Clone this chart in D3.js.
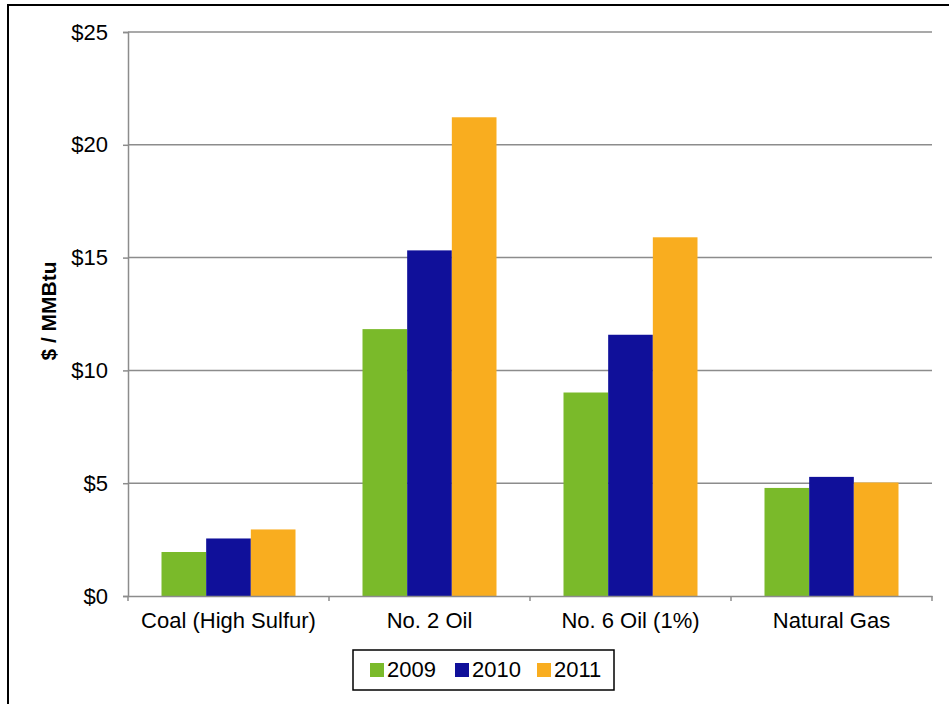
<!DOCTYPE html>
<html>
<head>
<meta charset="utf-8">
<script src="https://cdn.jsdelivr.net/npm/d3@7"></script>
<style>
  html, body { margin: 0; padding: 0; background: #fff; }
  svg { display: block; font-family: "Liberation Sans", Arial, sans-serif; }
</style>
</head>
<body>
<svg id="chart" width="949" height="704"></svg>
<script>
// Fuel prices by year, $ / MMBtu
const categories = ["Coal (High Sulfur)", "No. 2 Oil", "No. 6 Oil (1%)", "Natural Gas"];
const years = ["2009", "2010", "2011"];
const values2009 = [1.95, 11.83, 9.02, 4.79];
const values2010 = [2.55, 15.32, 11.58, 5.28];
const values2011 = [2.95, 21.22, 15.9, 5.03];
const yTicks = [0, 5, 10, 15, 20, 25];
const colors = ["#7aba2a", "#10109a", "#f9ad1f"];

const seriesValues = [values2009, values2010, values2011];
const rows = categories.map((c, i) => ({
  category: c,
  vals: years.map((y, j) => ({ year: y, value: seriesValues[j][i], color: colors[j] }))
}));

const svg = d3.select("#chart");
const plot = { left: 128, right: 932, top: 32, bottom: 596 };
const fontFamily = "'Liberation Sans', Arial, sans-serif";

// outer frame
svg.append("rect")
  .attr("x", 8).attr("y", 5)
  .attr("width", 960).attr("height", 720)
  .attr("fill", "none").attr("stroke", "#000").attr("stroke-width", 2);

const x = d3.scaleBand().domain(categories).range([plot.left, plot.right]).padding(0);
const barW = x.bandwidth() / 4.5;
const xInner = d3.scaleBand().domain(years)
  .range([0.75 * barW, 0.75 * barW + 3 * barW]).padding(0);
const y = d3.scaleLinear().domain([0, 25]).range([plot.bottom, plot.top]);

const gridColor = "#8c8c8c";

// horizontal gridlines
svg.append("g").selectAll("line")
  .data(yTicks.filter(t => t > 0))
  .join("line")
  .attr("x1", plot.left).attr("x2", plot.right)
  .attr("y1", d => y(d)).attr("y2", d => y(d))
  .attr("stroke", gridColor).attr("stroke-width", 1.5);

// bars
const groups = svg.append("g").selectAll("g")
  .data(rows)
  .join("g")
  .attr("transform", d => `translate(${x(d.category)},0)`);

groups.selectAll("rect")
  .data(d => d.vals)
  .join("rect")
  .attr("x", d => xInner(d.year))
  .attr("width", xInner.bandwidth())
  .attr("y", d => y(d.value))
  .attr("height", d => y(0) - y(d.value))
  .attr("fill", d => d.color);

// y axis
const yAxis = svg.append("g")
  .attr("transform", `translate(${plot.left},0)`)
  .call(d3.axisLeft(y).tickValues(yTicks).tickFormat(d => "$" + d).tickSize(5).tickPadding(15));
yAxis.select(".domain").attr("stroke", gridColor).attr("stroke-width", 1.5);
yAxis.selectAll(".tick line").attr("stroke", gridColor).attr("stroke-width", 1.5);
yAxis.selectAll(".tick text")
  .attr("fill", "#000").attr("font-size", 22)
  .attr("font-family", fontFamily);

// x axis
const xAxis = svg.append("g")
  .attr("transform", `translate(0,${plot.bottom})`)
  .call(d3.axisBottom(x).tickSize(0).tickPadding(16));
xAxis.select(".domain").attr("stroke", gridColor).attr("stroke-width", 1.5);
xAxis.selectAll(".tick text")
  .attr("fill", "#000").attr("font-size", 22)
  .attr("font-family", fontFamily);

// category boundary ticks
const boundaries = categories.map(c => x(c)).concat([plot.right]);
svg.append("g").selectAll("line")
  .data(boundaries)
  .join("line")
  .attr("x1", d => d).attr("x2", d => d)
  .attr("y1", plot.bottom).attr("y2", plot.bottom + 5)
  .attr("stroke", gridColor).attr("stroke-width", 1.5);

// y axis title
svg.append("text")
  .attr("transform", `translate(56,${(plot.top + plot.bottom) / 2 - 3}) rotate(-90)`)
  .attr("text-anchor", "middle")
  .attr("font-size", 21).attr("font-weight", "bold")
  .attr("font-family", fontFamily)
  .text("$ / MMBtu");

// legend
const legend = svg.append("g");
legend.append("rect")
  .attr("x", 353).attr("y", 650).attr("width", 261).attr("height", 40)
  .attr("fill", "#fff").attr("stroke", "#000").attr("stroke-width", 1.5);
const legendX = [370, 455, 537];
const items = legend.selectAll("g.item")
  .data(years.map((yr, i) => ({ year: yr, color: colors[i], x: legendX[i] })))
  .join("g").attr("class", "item")
  .attr("transform", d => `translate(${d.x},663)`);
items.append("rect").attr("width", 14).attr("height", 14).attr("fill", d => d.color);
items.append("text")
  .attr("x", 17).attr("y", 14)
  .attr("font-size", 22)
  .attr("font-family", fontFamily)
  .text(d => d.year);
</script>
</body>
</html>
